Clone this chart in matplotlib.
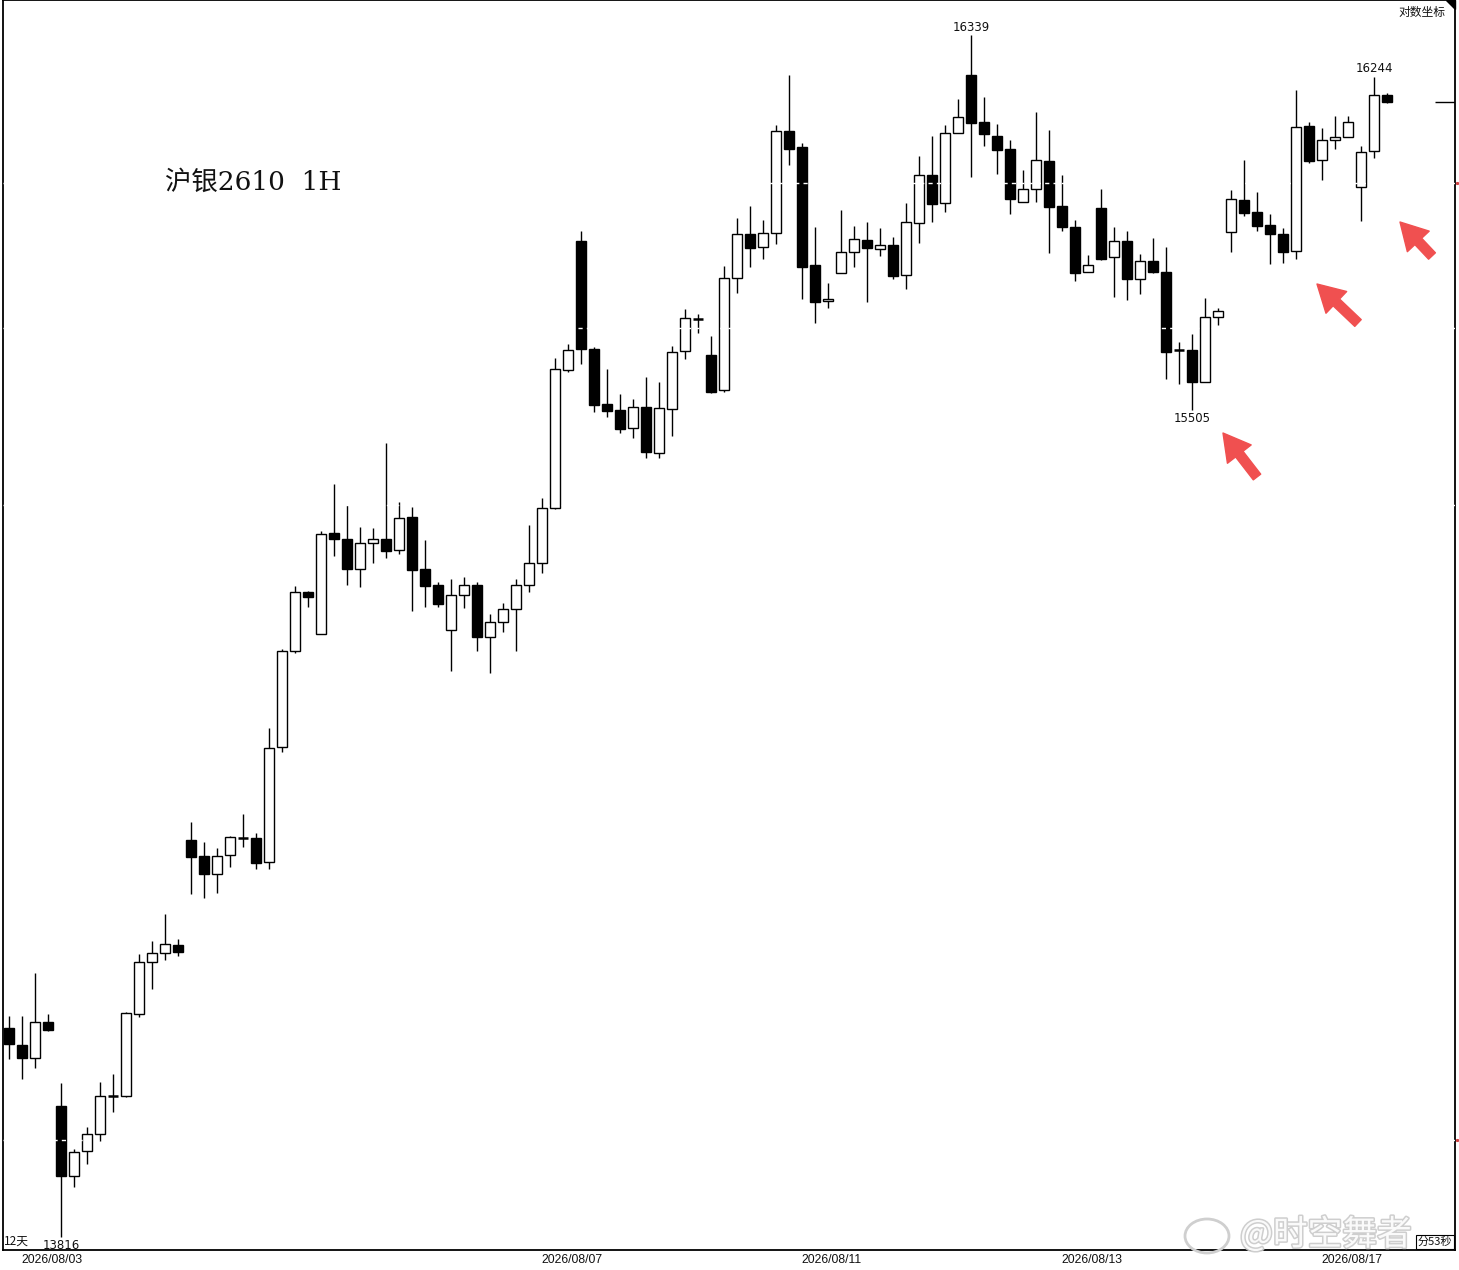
import matplotlib
matplotlib.use("Agg")
import matplotlib.pyplot as plt
import matplotlib.patheffects as pe
from matplotlib.ticker import NullLocator
from matplotlib.patches import Ellipse, Polygon

# ---------------- data ----------------
opens = [14225, 14192, 14166, 14237, 14071, 13935, 13983, 14017, 14091, 14091,
         14253, 14357, 14375, 14391, 14603, 14571, 14534, 14573, 14608, 14608,
         14559, 14794, 14994, 15117, 15029, 15243, 15230, 15166, 15221, 15230,
         15206, 15277, 15166, 15132, 15038, 15111, 15132, 15023, 15054, 15082,
         15132, 15179, 15296, 15593, 15876, 15639, 15519, 15506, 15468, 15513,
         15414, 15508, 15635, 15705, 15626, 15550, 15795, 15892, 15863, 15894,
         16122, 16086, 15823, 15744, 15806, 15852, 15879, 15859, 15868, 15801,
         15916, 16023, 15960, 16117, 16248, 16142, 16111, 16082, 15963, 15992,
         16055, 15954, 15907, 15808, 15949, 15841, 15876, 15792, 15832, 15808,
         15637, 15637, 15567, 15709, 15896, 15967, 15941, 15912, 15892, 15854,
         16133, 16057, 16102, 16108, 15996, 16077, 16203]
highs = [14249, 14249, 14335, 14253, 14117, 13987, 14030, 14118, 14134, 14256,
         14373, 14399, 14453, 14403, 14640, 14599, 14587, 14612, 14656, 14618,
         14833, 14998, 15130, 15119, 15247, 15347, 15302, 15255, 15253, 15435,
         15308, 15298, 15228, 15139, 15145, 15149, 15139, 15071, 15094, 15145,
         15260, 15317, 15619, 15650, 15898, 15643, 15595, 15541, 15530, 15578,
         15567, 15646, 15726, 15715, 15667, 15821, 15927, 15954, 15923, 16135,
         16248, 16095, 15907, 15783, 15945, 15910, 15918, 15905, 15885, 15960,
         16066, 16111, 16135, 16194, 16339, 16198, 16138, 16102, 16034, 16165,
         16124, 16023, 15923, 15845, 15992, 15907, 15899, 15848, 15883, 15863,
         15654, 15672, 15750, 15728, 15990, 16057, 15985, 15936, 15905, 16214,
         16142, 16129, 16156, 16156, 16088, 16244, 16207]
lows = [14164, 14124, 14146, 14219, 13816, 13913, 13958, 14003, 14060, 14089,
        14247, 14303, 14361, 14369, 14494, 14485, 14496, 14549, 14589, 14545,
        14545, 14784, 14990, 15086, 15029, 15194, 15132, 15128, 15179, 15190,
        15198, 15077, 15086, 15086, 14952, 15084, 14994, 14948, 15033, 14994,
        15117, 15158, 15294, 15589, 15606, 15502, 15491, 15457, 15446, 15403,
        15403, 15450, 15617, 15674, 15543, 15545, 15761, 15819, 15837, 15870,
        16046, 15748, 15696, 15728, 15806, 15819, 15742, 15843, 15792, 15770,
        15872, 15918, 15941, 16117, 16019, 16088, 16025, 15936, 15963, 15963,
        15850, 15899, 15788, 15808, 15834, 15753, 15746, 15759, 15806, 15574,
        15563, 15505, 15567, 15691, 15852, 15932, 15899, 15826, 15828, 15837,
        16050, 16012, 16082, 16108, 15921, 16061, 16185]
closes = [14194, 14166, 14237, 14221, 13935, 13981, 14017, 14091, 14091, 14255,
          14357, 14375, 14393, 14377, 14569, 14534, 14571, 14610, 14608, 14557,
          14792, 14994, 15117, 15107, 15240, 15230, 15166, 15221, 15230, 15204,
          15274, 15164, 15130, 15092, 15111, 15132, 15023, 15054, 15082, 15132,
          15179, 15296, 15595, 15637, 15639, 15517, 15504, 15465, 15513, 15416,
          15511, 15632, 15707, 15705, 15545, 15795, 15892, 15861, 15894, 16122,
          16082, 15819, 15742, 15748, 15852, 15881, 15861, 15868, 15799, 15918,
          16023, 15958, 16117, 16153, 16140, 16115, 16079, 15969, 15992, 16057,
          15952, 15907, 15806, 15823, 15837, 15876, 15792, 15832, 15808, 15632,
          15637, 15567, 15709, 15722, 15969, 15938, 15910, 15892, 15852, 16131,
          16055, 16102, 16108, 16142, 16075, 16203, 16187]

date_labels = ["2026/08/03", "2026/08/07", "2026/08/11", "2026/08/13", "2026/08/17"]
date_label_bars = [1, 41, 61, 81, 101]
grid_levels = [16005, 15685, 15302, 14005]
marked_high_bars = [74, 105]
marked_low_bars = [4, 91]
title_text = "沪银2610  1H"

# ---------------- figure ----------------
W, H = 1459, 1270
fig = plt.figure(figsize=(W / 100, H / 100), dpi=100)
fig.patch.set_facecolor("white")
ax = fig.add_axes([3 / W, 20 / H, 1452 / W, 1250 / H])
ax.set_yscale("log")
ax.set_ylim(13791, 16419)
ax.set_xlim(-0.4615, 111.23)
ax.yaxis.set_major_locator(NullLocator())
ax.yaxis.set_minor_locator(NullLocator())
ax.xaxis.set_major_locator(NullLocator())
ax.xaxis.set_minor_locator(NullLocator())
for s in ax.spines.values():
    s.set_linewidth(1.3)
    s.set_color("black")

n = len(opens)
xs = list(range(n))
# wicks
ax.vlines(xs, lows, highs, colors="black", linewidth=1.0, zorder=2)
# bodies
for i in xs:
    o, c = opens[i], closes[i]
    up = c > o
    bottom = min(o, c)
    height = abs(c - o)
    if height == 0:
        ax.hlines(o, i - 0.39, i + 0.39, colors="black", linewidth=1.8, zorder=3)
    else:
        ax.bar(i, height, bottom=bottom, width=0.78,
               color="white" if up else "black", edgecolor="black",
               linewidth=1.0, zorder=3)

# dotted grid, white: only shows where it crosses dark bodies
for lv in grid_levels:
    ax.axhline(lv, color="white", linewidth=1.0, linestyle=(0, (3, 3)), zorder=4)

# last price marker
ax.hlines(closes[-1], (1435 - 9) / 13, 111.23, colors="black", linewidth=1.0, zorder=4)

# high / low annotations
for b in marked_high_bars:
    ax.annotate(str(highs[b]), xy=(b, highs[b]), xytext=(0, 8),
                textcoords="offset pixels", ha="center", va="center",
                fontsize=8.5, family="DejaVu Sans", color="#111111")
for b in marked_low_bars:
    ax.annotate(str(lows[b]), xy=(b, lows[b]), xytext=(0, -8),
                textcoords="offset pixels", ha="center", va="center",
                fontsize=8.5, family="DejaVu Sans", color="#111111")

# date labels under the axis
for lab, b in zip(date_labels, date_label_bars):
    ax.text(b - 0.05, -0.008, lab, transform=ax.get_xaxis_transform(),
            ha="left", va="center", fontsize=8.8, family="Liberation Sans",
            color="#111111")

cjk = ["Noto Sans CJK SC", "DejaVu Sans"]
# "12天" bottom-left
fig.text(4 / W, 1 - 1241 / H, "12天", fontsize=8.5, family=cjk,
         ha="left", va="center", color="#111111")
# log-scale label top right
fig.text(1445 / W, 1 - 12 / H, "对数坐标", fontsize=8.5, family=cjk,
         ha="right", va="center", color="#111111")
tri = Polygon([(1446, H - 0), (1455, H - 0), (1455, H - 9)], closed=True,
              transform=None, color="black")
fig.add_artist(tri)

# title
fig.text(165 / W, 1 - 182 / H, title_text, fontsize=19,
         family=["DejaVu Serif", "Noto Sans CJK SC"], ha="left", va="center",
         color="#111111")

# red arrows
arrows = [((1257, 477), (1223, 433)), ((1358, 323), (1317, 284)), ((1432, 256), (1400, 222))]
for tail, tip in arrows:
    ax.annotate("", xy=(tip[0], H - tip[1]), xytext=(tail[0], H - tail[1]),
                xycoords="figure pixels", textcoords="figure pixels",
                arrowprops=dict(arrowstyle="simple,head_length=1.2,head_width=1.35,tail_width=0.42",
                                mutation_scale=16, color="#f05050", shrinkA=0, shrinkB=0))

# small red marks right of the frame
for lv in (grid_levels[0], grid_levels[-1]):
    ax.plot([111.4], [lv], marker="s", markersize=1.2, color="#d04040",
            clip_on=False, zorder=5)

# watermark (kept above the date row)
wm = Ellipse((1207, H - 1236), 44, 34, transform=None, facecolor="none",
             edgecolor="#cfcfcf", linewidth=2.0)
fig.add_artist(wm)
fig.text(1240 / W, 1 - 1235 / H, "@时空舞者", fontsize=25, family=cjk,
         ha="left", va="center", color="white", alpha=0.9,
         path_effects=[pe.withStroke(linewidth=2.2, foreground="#c9c9c9")])

# bottom-right timer label
fig.text(1452 / W, 1 - 1242 / H, "分53秒", fontsize=8, family=cjk,
         ha="right", va="center", color="#111111",
         bbox=dict(boxstyle="square,pad=0.15", facecolor="white", edgecolor="black", linewidth=0.8))

fig.savefig("out.png", dpi=100, facecolor="white")
